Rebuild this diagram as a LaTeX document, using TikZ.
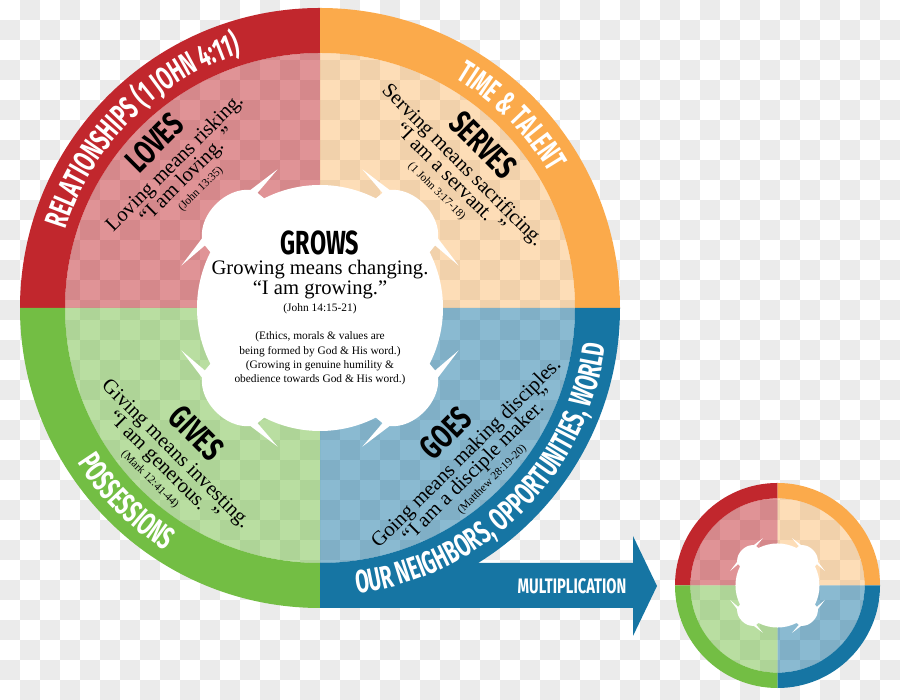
\documentclass[tikz,border=0pt]{standalone}
\usepackage{fontspec}
\setmainfont{Liberation Serif}
\newfontfamily\capsfam[FakeStretch=0.7]{Fira Sans}
\newfontfamily\ringfam[FakeStretch=0.62]{Fira Sans}
\usepackage{color}
\usetikzlibrary{decorations.text}

\definecolor{ringred}{RGB}{193,39,45}
\definecolor{ringorange}{RGB}{251,170,75}
\definecolor{ringgreen}{RGB}{115,190,68}
\definecolor{ringblue}{RGB}{22,117,163}
\definecolor{checkgray}{RGB}{235,235,235}

\newcommand\titlefont{\capsfam\bfseries\fontsize{16.7}{18}\selectfont}
\newcommand\ringfont{\ringfam\bfseries\fontsize{16}{16}\selectfont}
\newcommand\multfont{\capsfam\bfseries\fontsize{10.5}{11}\selectfont}
\newcommand\linefont{\fontsize{10.3}{11}\selectfont}
\newcommand\reffont{\fontsize{5.7}{6.5}\selectfont}

\tikzset{
  blocktitle/.style={font=\titlefont, anchor=base, inner sep=0pt},
  blockline/.style={font=\linefont, anchor=base, inner sep=0pt},
  blockref/.style={font=\reffont, anchor=base, inner sep=0pt},
  ringtext/.style={decorate, decoration={text along path, text align=center, text color=white, text={|\ringfont|#1}}}
}

\begin{document}
\begin{tikzpicture}[x=0.5pt, y=0.5pt]
   \useasboundingbox (0,0) rectangle (900,700);
   \foreach \i in {1,3,...,43} \foreach \j in {0,2,...,34} \fill[checkgray] (20*\i,680-20*\j) rectangle +(20,20);
   \foreach \i in {0,2,...,44} \foreach \j in {1,3,...,33} \fill[checkgray] (20*\i,680-20*\j) rectangle +(20,20);

   \coordinate (hub) at (320,392);
   \coordinate (minihub) at (777.5,114.5);

   \foreach \cx/\cy/\s in {320/392/1, 777.5/114.5/0.3417} {
      \begin{scope}[shift={(\cx,\cy)}, scale=\s]
         \foreach \a/\c/\o in {90/ringred/0.5, 0/ringorange/0.4, 180/ringgreen/0.5, 270/ringblue/0.5} {
            \fill[\c, opacity=\o] (0,0) -- (\a:255) arc[start angle=\a, end angle=\a+90, radius=255] -- cycle;
            \fill[\c] (\a:255) -- (\a:300) arc[start angle=\a, end angle=\a+90, radius=300] -- ({\a+90}:255) arc[start angle=\a+90, end angle=\a, radius=255] -- cycle;
         }
         \fill[white] (27:123) \foreach \q in {0,90,180,270} {
            -- ({\q+28.5}:131) -- ({\q+17}:145) -- ({\q+30.5}:137)
            .. controls ({\q+38}:153) and ({\q+52}:153) .. ({\q+59.5}:137)
            -- ({\q+73}:145) -- ({\q+61.5}:131) -- ({\q+63}:123)
            arc[start angle=\q+63, end angle=\q+117, radius=123]
         } -- cycle;
      \end{scope}
   }

   \fill[ringblue] (320,92) -- (633,92) -- (633,64) -- (657,114) -- (633,164) -- (633,137) -- (320,137) -- cycle;
   \node[font=\multfont, text=white, anchor=base, inner sep=0pt] (mult) at (572,106) {MULTIPLICATION};

   \path[ringtext={RELATIONSHIPS (1 JOHN 4:11)}] ([shift={(180:266)}]hub) arc[start angle=180, end angle=90, radius=266];
   \path[ringtext={TIME {\&} TALENT}] ([shift={(90:266)}]hub) arc[start angle=90, end angle=0, radius=266];
   \path[ringtext={POSSESSIONS}] ([shift={(180:288)}]hub) arc[start angle=180, end angle=270, radius=288];
   \path[ringtext={OUR NEIGHBORS, OPPORTUNITIES, WORLD}] ([shift={(270:288)}]hub) arc[start angle=270, end angle=360, radius=288];

   \node[blocktitle] (grows) at (320,445) {GROWS};
   \node[blockline] (growsmeans) at (320,425) {Growing means changing.};
   \node[blockline] (growsquote) at (320,405) {“I am growing.”};
   \node[blockref] (growsref) at (320,388.3) {(John 14:15-21)};
   \foreach \t [count=\k] in {{(Ethics, morals \& values are}, {being formed by God \& His word.)}, {(Growing in genuine humility \&}, {obedience towards God \& His word.)}}
      \node[blockref] (note\k) at (320,374.3-14.3*\k) {\t};

   \begin{scope}[shift={(162.5,549.2)}, rotate=45, transform shape]
      \node[blocktitle] (loves) at (0,0) {LOVES};
      \node[blockline] (lovesmeans) at (0,-23) {Loving means risking.};
      \node[blockline] (lovesquote) at (0,-41) {“I am loving. ”};
      \node[blockref] (lovesref) at (0,-57) {(John 13:35)};
   \end{scope}

   \begin{scope}[shift={(474.9,546.9)}, rotate=-45, transform shape]
      \node[blocktitle] (serves) at (0,0) {SERVES};
      \node[blockline] (servesmeans) at (0,-23) {Serving means sacrificing.};
      \node[blockline] (servesquote) at (0,-41) {“I am a servant. ”};
      \node[blockref] (servesref) at (0,-57) {(1 John 3:17-18)};
   \end{scope}

   \begin{scope}[shift={(188.2,258.6)}, rotate=-45, transform shape]
      \node[blocktitle] (gives) at (0,0) {GIVES};
      \node[blockline] (givesmeans) at (0,-23) {Giving means investing.};
      \node[blockline] (givesquote) at (0,-41) {“I am generous. ”};
      \node[blockref] (givesref) at (0,-57) {(Mark 12:41-44)};
   \end{scope}

   \begin{scope}[shift={(454,258.8)}, rotate=45, transform shape]
      \node[blocktitle] (goes) at (0,0) {GOES};
      \node[blockline] (goesmeans) at (0,-23) {Going means making disciples.};
      \node[blockline] (goesquote) at (0,-41) {“I am a disciple maker. ”};
      \node[blockref] (goesref) at (0,-57) {(Matthew 28:19-20)};
   \end{scope}
\end{tikzpicture}
\end{document}
